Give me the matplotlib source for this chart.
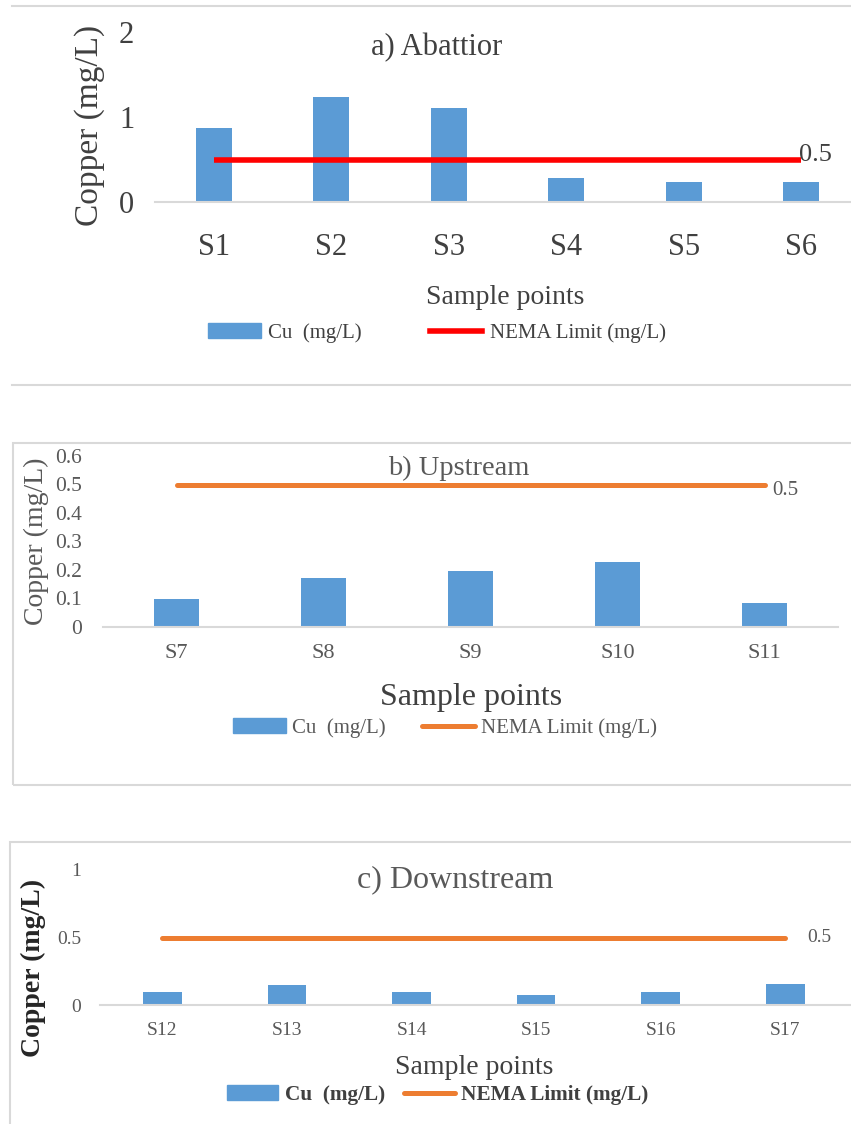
import numpy as np
import matplotlib.pyplot as plt
from matplotlib.lines import Line2D
from matplotlib.patches import Patch

plt.rcParams['font.family'] = ['Liberation Serif', 'DejaVu Serif']

W, H = 851, 1124

# data
sites_a = ["S1", "S2", "S3", "S4", "S5", "S6"]
cu_a = [0.87, 1.24, 1.10, 0.28, 0.23, 0.23]
sites_b = ["S7", "S8", "S9", "S10", "S11"]
cu_b = [0.097, 0.173, 0.197, 0.229, 0.085]
sites_c = ["S12", "S13", "S14", "S15", "S16", "S17"]
cu_c = [0.10, 0.147, 0.096, 0.074, 0.093, 0.154]
nema_limit = 0.5

BLUE = "#5B9BD5"
ORANGE = "#ED7D31"
GRID = "#D9D9D9"
TXT = "#595959"


def px_axes(fig, left, right, bottom, top):
    return fig.add_axes([left / W, 1 - bottom / H, (right - left) / W, (bottom - top) / H])


def fx(x):
    return x / W


def fy(y):
    return 1 - y / H


fig = plt.figure(figsize=(W / 100, H / 100), dpi=100)

# frames
fig.add_artist(Line2D([fx(12), 1], [fy(6), fy(6)], color=GRID, lw=1.5))
fig.add_artist(Line2D([fx(12), 1], [fy(385), fy(385)], color=GRID, lw=1.5))
fig.add_artist(plt.Rectangle((fx(13), fy(785)), 1, fy(443) - fy(785), fill=False,
                             edgecolor=GRID, lw=1.5))
fig.add_artist(plt.Rectangle((fx(10), fy(1130)), 1, fy(842) - fy(1130), fill=False,
                             edgecolor=GRID, lw=1.5))


def setup(ax, sites, vals, ymax, yticks, ytl, tick_fs, xpad, ypad, color, lw, capstyle, tc):
    x = np.arange(len(sites))
    ax.bar(x, vals, width=0.31, color=BLUE, zorder=2)
    ax.plot([x[0], x[-1]], [nema_limit, nema_limit], color=color, lw=lw,
            solid_capstyle=capstyle, zorder=3)
    ax.set_ylim(0, ymax)
    ax.set_yticks(yticks)
    ax.set_yticklabels(ytl)
    ax.set_xticks(x)
    ax.set_xticklabels(sites)
    for s in ["top", "right", "left"]:
        ax.spines[s].set_visible(False)
    ax.spines["bottom"].set_color(GRID)
    ax.spines["bottom"].set_linewidth(1.5)
    ax.tick_params(axis="x", length=0, pad=xpad, labelsize=tick_fs, labelcolor=tc)
    ax.tick_params(axis="y", length=0, pad=ypad, labelsize=tick_fs, labelcolor=tc)
    ax.patch.set_alpha(0)
    return x


# a) Abattior
ax1 = px_axes(fig, 155, 851, 202, 32)
x1 = setup(ax1, sites_a, cu_a, 2, [0, 1, 2], ["0", "1", "2"], 22, 22, 15,
           "#FF0000", 4.0, "butt", "#404040")
ax1.set_xlim(-0.5, -0.5 + (851 - 155) / 117.5)
ax1.text(x1[-1] - 0.02, nema_limit + 0.05, "0.5", fontsize=19, color="#404040", va="center", ha="left")
fig.text(fx(437), fy(48), "a) Abattior", fontsize=22, color="#404040", ha="center", va="center")
fig.text(fx(90), fy(125), "Copper (mg/L)", fontsize=24, color="#404040", rotation=90,
         ha="center", va="center")
fig.text(fx(505), fy(298), "Sample points", fontsize=20, color="#404040", ha="center", va="center")
fig.legend([Patch(color=BLUE), Line2D([], [], color="#FF0000", lw=4)],
           ["Cu  (mg/L)", "NEMA Limit (mg/L)"], loc="center",
           bbox_to_anchor=(fx(437), fy(333)), ncol=2, frameon=False, fontsize=15,
           handlelength=2.5, handletextpad=0.35, columnspacing=3.3, labelcolor="#404040")

# b) Upstream
ax2 = px_axes(fig, 103, 838, 627, 456)
x2 = setup(ax2, sites_b, cu_b, 0.6, np.arange(0, 0.61, 0.1),
           ["0", "0.1", "0.2", "0.3", "0.4", "0.5", "0.6"], 16, 12, 15,
           ORANGE, 3.6, "round", TXT)
ax2.set_xlim(-0.5, 4.5)
ax2.tick_params(axis="y", labelsize=15.5)
ax2.text(x2[-1] + 0.05, nema_limit - 0.02, "0.5", fontsize=15, color=TXT, va="center", ha="left")
fig.text(fx(459), fy(468), "b) Upstream", fontsize=20.5, color=TXT, ha="center", va="center")
fig.text(fx(36), fy(541), "Copper (mg/L)", fontsize=20, color=TXT, rotation=90,
         ha="center", va="center")
fig.text(fx(471), fy(697), "Sample points", fontsize=23, color="#404040", ha="center", va="center")
fig.legend([Patch(color=BLUE), Line2D([], [], color=ORANGE, lw=3.6, solid_capstyle="round")],
           ["Cu  (mg/L)", "NEMA Limit (mg/L)"], loc="center",
           bbox_to_anchor=(fx(445), fy(728)), ncol=2, frameon=False, fontsize=15,
           handlelength=2.55, handletextpad=0.3, columnspacing=1.7, labelcolor=TXT)

# c) Downstream
ax3 = px_axes(fig, 100, 851, 1005, 870)
x3 = setup(ax3, sites_c, cu_c, 1, [0, 0.5, 1], ["0", "0.5", "1"], 14, 12, 13.5,
           ORANGE, 3.6, "round", TXT)
ax3.set_xlim(-0.5, -0.5 + (851 - 100) / 124.6)
ax3.text(x3[-1] + 0.18, nema_limit, "0.5", fontsize=14, color=TXT, va="center", ha="left")
fig.text(fx(455), fy(880), "c) Downstream", fontsize=23, color=TXT, ha="center", va="center")
fig.text(fx(33), fy(968), "Copper (mg/L)", fontsize=20, fontweight="bold", color="#262626",
         rotation=90, ha="center", va="center")
fig.text(fx(474), fy(1068), "Sample points", fontsize=20, color="#404040", ha="center", va="center")
fig.legend([Patch(color=BLUE), Line2D([], [], color=ORANGE, lw=3.6, solid_capstyle="round")],
           ["Cu  (mg/L)", "NEMA Limit (mg/L)"], loc="center",
           bbox_to_anchor=(fx(438), fy(1095)), ncol=2, frameon=False,
           prop={"size": 15.3, "weight": "bold"},
           handlelength=2.4, handletextpad=0.3, columnspacing=0.9, labelcolor="#404040")

fig.savefig("out.png", dpi=100)
